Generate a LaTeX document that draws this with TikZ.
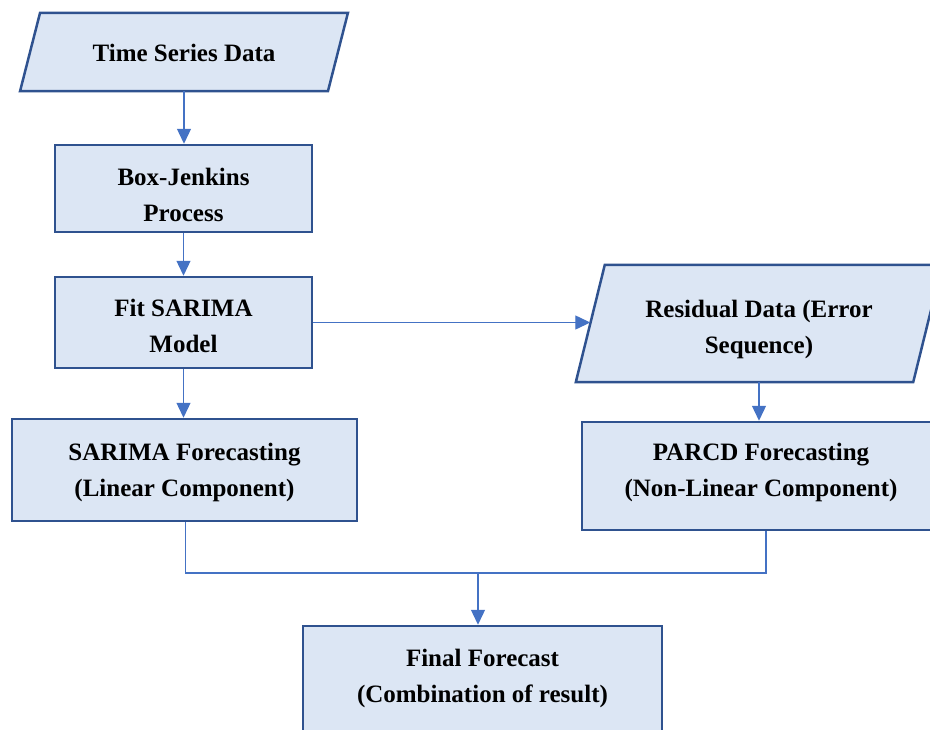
\documentclass[tikz,border=0pt]{standalone}
\usepackage{fontspec}
\setmainfont{Liberation Serif}
\usetikzlibrary{arrows.meta,backgrounds}
\definecolor{boxfill}{HTML}{DCE6F4}
\definecolor{boxline}{HTML}{2F528F}
\definecolor{connc}{HTML}{4472C4}
\newcommand{\twolines}[3]{\raisebox{#1}[\height][\depth]{\begin{tabular}{@{}c@{}}#2\\#3\end{tabular}}}
\begin{document}
\begin{tikzpicture}[x=1pt,y=-1pt,
  box/.style={draw=boxline, line width=2.5pt, fill=boxfill, align=center,
    font=\fontsize{25}{36}\selectfont\bfseries, inner sep=0pt},
  paratext/.style={align=center, font=\fontsize{25}{36}\selectfont\bfseries, inner sep=0pt},
  para/.style={draw=boxline, line width=2.5pt, fill=boxfill, line join=miter},
  link/.style={draw=connc, line width=1.3pt},
  arr/.style={link, -{Triangle[length=15pt,width=14pt]}}]
\useasboundingbox (0,0) rectangle (930,729);
\clip (0,0) rectangle (930,729);

\node[paratext, minimum width=307.5pt, minimum height=78pt] (tsd) at (184,52) {\raisebox{-1pt}[\height][\depth]{Time Series Data}};
\node[box, minimum width=257pt, minimum height=87pt] (bj) at (183.5,188.5) {\twolines{-8pt}{Box-Jenkins}{Process}};
\node[box, minimum width=257pt, minimum height=91pt] (fit) at (183.5,322.5) {\twolines{-5pt}{Fit SARIMA}{Model}};
\node[box, minimum width=345pt, minimum height=102pt] (sf) at (184.5,470) {\twolines{-1pt}{SARIMA Forecasting}{(Linear Component)}};
\node[paratext, minimum width=337pt, minimum height=117pt] (res) at (759,323.5) {\twolines{-5pt}{Residual Data (Error}{Sequence)}};
\node[box, minimum width=358pt, minimum height=108pt] (pf) at (761,476) {\twolines{5pt}{PARCD Forecasting}{(Non-Linear Component)}};
\node[box, minimum width=359pt, minimum height=108pt] (ff) at (482.5,680) {\twolines{3pt}{Final Forecast}{(Combination of result)}};

\begin{scope}[on background layer]
  \draw[para] ([xshift=10pt]tsd.north west) -- ([xshift=10pt]tsd.north east)
     -- ([xshift=-10pt]tsd.south east) -- ([xshift=-10pt]tsd.south west) -- cycle;
  \draw[para] ([xshift=14.5pt]res.north west) -- ([xshift=14.5pt]res.north east)
     -- ([xshift=-14.5pt]res.south east) -- ([xshift=-14.5pt]res.south west) -- cycle;
\end{scope}

\draw[arr] (tsd.south) -- (tsd.south |- bj.north);
\draw[arr] (bj.south) -- (fit.north);
\draw[arr] (fit.south) -- (fit.south |- sf.north);
\draw[arr] (fit.east) -- (fit.east -| res.west);
\draw[arr] (res.south) -- (res.south |- pf.north);
\coordinate (join) at (478,573);
\draw[link] ([xshift=1pt]sf.south) |- (join) -| ([xshift=5pt]pf.south);
\draw[arr] (join) -- (join |- ff.north);
\end{tikzpicture}
\end{document}
